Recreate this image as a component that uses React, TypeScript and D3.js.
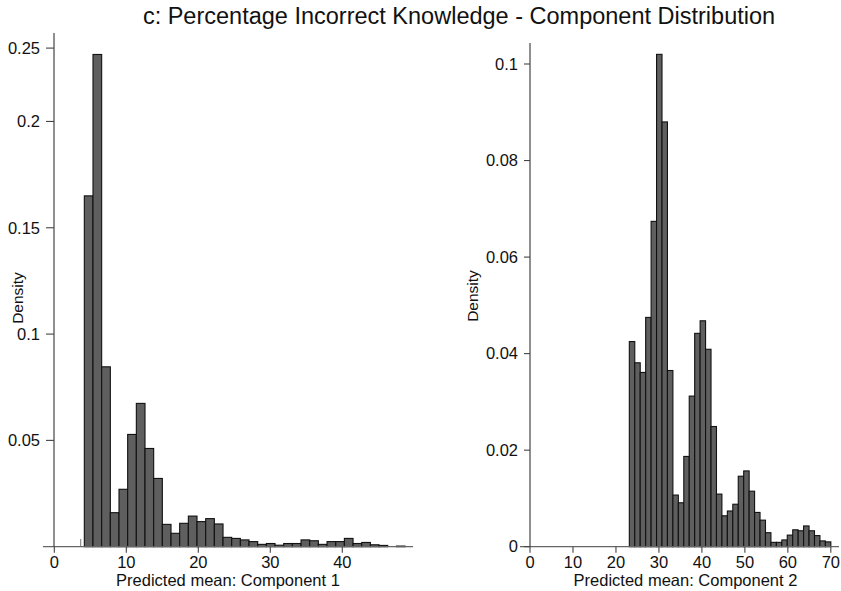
import React from 'react';
import * as d3 from 'd3';

// Component 1 histogram: density per bin (37 bins)
const leftDensity = [
  0.165, 0.2315, 0.0846, 0.016, 0.027, 0.0528, 0.0674, 0.0462, 0.0321, 0.0105,
  0.0063, 0.011, 0.0144, 0.0118, 0.0132, 0.0107, 0.0044, 0.0039, 0.0032, 0.0024,
  0.0011, 0.0015, 0.0007, 0.0015, 0.0015, 0.0032, 0.0028, 0.0011, 0.0024, 0.0024,
  0.0039, 0.0015, 0.002, 0.0009, 0.0006, 0, 0.0003,
];
const leftBinStart = 4.17;
const leftBinWidth = 1.204;
const leftXTicks = [0, 10, 20, 30, 40];
const leftYTicks = [0.05, 0.1, 0.15, 0.2, 0.2345];
const leftYTickLabels = ['0.05', '0.1', '0.15', '0.2', '0.25'];
// lone sliver drawn just left of the first bar
const leftSliver = { x: 3.67, y: 0.0036 };

// Component 2 histogram
const rightDensity = [
  0.0425, 0.0381, 0.0361, 0.0475, 0.0674, 0.102, 0.088, 0.0365, 0.0107, 0.0091,
  0.0187, 0.0312, 0.0442, 0.0468, 0.0409, 0.0249, 0.0109, 0.0064, 0.0074, 0.0088,
  0.0146, 0.0157, 0.0115, 0.0071, 0.0055, 0.0029, 0.0009, 0.0009, 0.0014, 0.0024,
  0.0035, 0.0033, 0.0043, 0.0033, 0.0023, 0.0012, 0.001,
];
const rightBinStart = 23.11;
const rightBinWidth = 1.2673;
const rightXTicks = [0, 10, 20, 30, 40, 50, 60, 70];
const rightYTicks = [0, 0.02, 0.04, 0.06, 0.08, 0.1];
const rightYTickLabels = ['0', '0.02', '0.04', '0.06', '0.08', '0.1'];

const FONT = '"Liberation Sans", Arial, Helvetica, sans-serif';

function Histogram(props) {
  const {
    data, binStart, binWidth, xDomain, xRange, yDomain, yRange,
    xTicks, yTicks, yTickLabels, yAxisX, yTickLen, xTitle, yTitleX, yTitleY, sliver,
  } = props;
  const x = d3.scaleLinear().domain(xDomain).range(xRange);
  const y = d3.scaleLinear().domain(yDomain).range(yRange);
  const base = y(0);

  return (
    <g>
      {data.map((d, i) => {
        if (d <= 0) return null;
        const x0 = x(binStart + i * binWidth);
        const x1 = x(binStart + (i + 1) * binWidth);
        return (
          <rect
            key={i}
            x={x0}
            y={y(d)}
            width={x1 - x0}
            height={base - y(d)}
            fill="#5f5f5f"
            stroke="#111"
            strokeWidth={1.1}
          />
        );
      })}
      {sliver && (
        <line x1={x(sliver.x)} x2={x(sliver.x)} y1={base} y2={y(sliver.y)} stroke="#777" strokeWidth={1} />
      )}
      {/* axes */}
      <line x1={xRange[0]} x2={xRange[1]} y1={base} y2={base} stroke="#666" strokeWidth={1.3} />
      <line x1={yAxisX} x2={yAxisX} y1={yRange[1]} y2={base} stroke="#333" strokeWidth={1.1} />
      {xTicks.map((t) => (
        <g key={t} transform={`translate(${x(t)},${base})`}>
          <line y1={0} y2={6} stroke="#444" strokeWidth={1.1} />
          <text y={21} textAnchor="middle" fontSize={16.5} fontFamily={FONT} fill="#111">
            {t}
          </text>
        </g>
      ))}
      {yTicks.map((t, i) => (
        <g key={t} transform={`translate(${yAxisX},${y(t)})`}>
          <line x1={-yTickLen} x2={0} stroke="#444" strokeWidth={1.1} />
          <text x={-yTickLen - 6} dy="0.35em" textAnchor="end" fontSize={16.5} fontFamily={FONT} fill="#111">
            {yTickLabels[i]}
          </text>
        </g>
      ))}
      <text
        x={(xRange[0] + xRange[1]) / 2 + xTitle.dx}
        y={586}
        textAnchor="middle"
        fontSize={16.5}
        fontFamily={FONT}
        fill="#111"
      >
        {xTitle.text}
      </text>
      <text
        transform={`translate(${yTitleX},${yTitleY}) rotate(-90)`}
        textAnchor="middle"
        fontSize={15.5}
        fontFamily={FONT}
        fill="#111"
      >
        Density
      </text>
    </g>
  );
}

export default function App() {
  return (
    <svg
      width={841}
      height={591}
      style={{ position: 'absolute', left: 0, top: 0, background: '#fff' }}
    >
      <rect width={841} height={591} fill="#fff" />
      <text x={459} y={24} textAnchor="middle" fontSize={23.5} fontFamily={FONT} fill="#111">
        c: Percentage Incorrect Knowledge - Component Distribution
      </text>
      <Histogram
        data={leftDensity}
        binStart={leftBinStart}
        binWidth={leftBinWidth}
        xDomain={[-1.57, 49.82]}
        xRange={[43, 413]}
        yDomain={[0, 0.2416]}
        yRange={[546.7, 33]}
        xTicks={leftXTicks}
        yTicks={leftYTicks}
        yTickLabels={leftYTickLabels}
        yAxisX={54}
        yTickLen={8}
        xTitle={{ text: 'Predicted mean: Component 1', dx: 0 }}
        yTitleX={23}
        yTitleY={298}
        sliver={leftSliver}
      />
      <Histogram
        data={rightDensity}
        binStart={rightBinStart}
        binWidth={rightBinWidth}
        xDomain={[-2.33, 71.9]}
        xRange={[520, 839]}
        yDomain={[0, 0.10435]}
        yRange={[546.7, 43]}
        xTicks={rightXTicks}
        yTicks={rightYTicks}
        yTickLabels={rightYTickLabels}
        yAxisX={530}
        yTickLen={6}
        xTitle={{ text: 'Predicted mean: Component 2', dx: 6 }}
        yTitleX={478}
        yTitleY={296}
      />
    </svg>
  );
}
